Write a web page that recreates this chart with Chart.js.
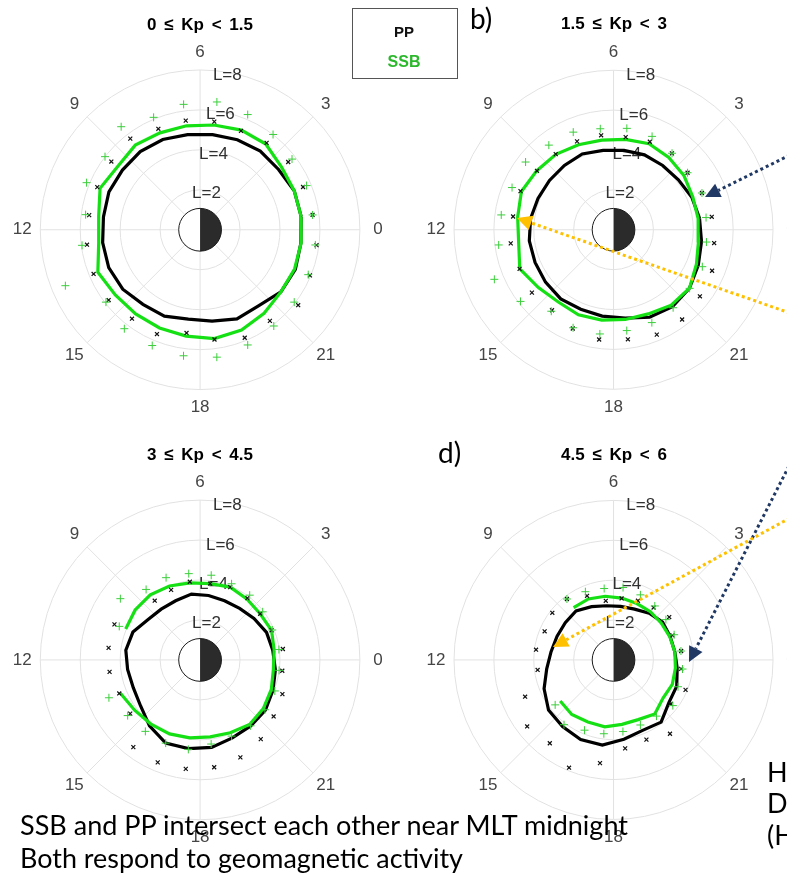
<!DOCTYPE html>
<html>
<head>
<meta charset="utf-8">
<title>PP and SSB vs Kp</title>
<script src="https://cdn.jsdelivr.net/npm/chart.js@4.4.1/dist/chart.umd.min.js"></script>
<style>
  html, body { margin: 0; padding: 0; background: #fff; }
  #page { position: relative; width: 787px; height: 874px; overflow: hidden; }
  #page canvas { position: absolute; }
  #overlay { position: absolute; left: 0; top: 0; }
  .kp { font-size: 17px; font-weight: bold; word-spacing: 3px; }
</style>
</head>
<body>
<div id="page">
  <canvas id="chart-a" width="407" height="440" style="left:0;top:0"></canvas>
  <canvas id="chart-b" width="380" height="440" style="left:407px;top:0"></canvas>
  <canvas id="chart-c" width="407" height="434" style="left:0;top:440px"></canvas>
  <canvas id="chart-d" width="380" height="434" style="left:407px;top:440px"></canvas>
  <svg id="overlay" width="787" height="874" font-family="'Liberation Sans', Arial, sans-serif">
    <text class="kp" x="200" y="30" text-anchor="middle">0 ≤ Kp &lt; 1.5</text>
    <text class="kp" x="614" y="29" text-anchor="middle">1.5 ≤ Kp &lt; 3</text>
    <text class="kp" x="200" y="460" text-anchor="middle">3 ≤ Kp &lt; 4.5</text>
    <text class="kp" x="614" y="460" text-anchor="middle">4.5 ≤ Kp &lt; 6</text>

    <rect x="352.5" y="8.5" width="105" height="70" fill="#fff" stroke="#555" stroke-width="1"/>
    <text x="404" y="37" text-anchor="middle" font-size="15" font-weight="bold" fill="#111">PP</text>
    <text x="404" y="67" text-anchor="middle" font-size="16" font-weight="bold" fill="#2cb82c">SSB</text>

    <g font-family="Lato, 'Open Sans', sans-serif" fill="#000">
      <text x="470" y="29" font-size="28">b)</text>
      <text x="438" y="463" font-size="28">d)</text>
      <text x="20" y="835" font-size="27" textLength="608" lengthAdjust="spacingAndGlyphs">SSB and PP intersect each other near MLT midnight</text>
      <text x="20" y="868" font-size="27" textLength="443" lengthAdjust="spacingAndGlyphs">Both respond to geomagnetic activity</text>
      <text x="767" y="782" font-size="27">H</text>
      <text x="767" y="813" font-size="27">D</text>
      <text x="767" y="845" font-size="27">(H</text>
    </g>
    <g id="arrows"></g>
  </svg>
</div>

<script>
// MLT bins (hours) at which the averages are given
const mltBins = [0.5, 1.5, 2.5, 3.5, 4.5, 5.5, 6.5, 7.5, 8.5, 9.5, 10.5, 11.5,
                 12.5, 13.5, 14.5, 15.5, 16.5, 17.5, 18.5, 19.5, 20.5, 21.5, 22.5, 23.5];
const mltTicks = [0, 3, 6, 9, 12, 15, 18, 21];
const lRings = [2, 4, 6, 8];

// a) 0 <= Kp < 1.5
const ppA      = [5.1, 5.1, 4.95, 4.95, 4.87, 4.79, 4.79, 4.88, 4.92, 4.9, 4.94, 4.88, 4.92, 4.95, 4.88, 4.7, 4.67, 4.5, 4.6, 4.82, 4.8, 5.1, 5.16, 5.09];
const ssbA     = [5.1, 5.1, 5.14, 5.4, 5.39, 5.28, 5.24, 5.24, 5.33, 5.2, 5.42, 5.12, 5.12, 5.54, 5.35, 5.3, 5.31, 5.36, 5.48, 5.42, 5.26, 5.1, 5.12, 5.1];
const ppSpreadA  = [5.68, 5.58, 5.56, 5.47, 5.35, 5.45, 5.5, 5.46, 5.74, 5.6, 5.57, 5.6, 5.71, 5.77, 5.77, 5.6, 5.64, 5.2, 5.53, 5.84, 5.74, 6.19, 5.95, 5.88];
const ssbSpreadA = [5.68, 5.77, 5.8, 6.0, 6.23, 6.44, 6.32, 6.08, 6.49, 6.0, 6.15, 5.78, 5.96, 7.3, 5.94, 6.23, 6.26, 6.35, 6.42, 6.23, 6.06, 5.94, 5.86, 5.82];

// b) 1.5 <= Kp < 3
const ppB      = [4.35, 4.25, 4.1, 4.05, 4.05, 4.0, 4.0, 4.1, 4.05, 4.05, 4.1, 4.2, 4.26, 4.26, 4.3, 4.35, 4.3, 4.35, 4.45, 4.73, 4.85, 4.8, 4.6, 4.45];
const ssbB     = [4.28, 4.3, 4.45, 4.55, 4.65, 4.55, 4.52, 4.6, 4.75, 4.85, 5.0, 4.85, 4.8, 5.09, 4.75, 4.55, 4.6, 4.55, 4.52, 4.55, 4.75, 4.8, 4.5, 4.3];
const ppSpreadB  = [4.97, 4.8, 4.68, 4.81, 4.76, 4.67, 4.76, 4.78, 4.76, 4.84, 5.05, 5.08, 5.2, 5.1, 5.16, 5.07, 5.34, 5.53, 5.52, 5.67, 5.65, 5.46, 5.35, 5.09];
const ssbSpreadB = [4.68, 4.8, 4.68, 4.82, 5.05, 5.11, 5.09, 5.28, 5.33, 5.56, 5.51, 5.68, 5.81, 6.47, 5.88, 5.13, 5.3, 5.25, 5.08, 5.02, 4.91, 4.81, 4.82, 4.7];

// c) 3 <= Kp < 4.5
const ppC      = [3.67, 3.6, 3.4, 3.25, 3.2, 3.25, 3.32, 3.2, 3.2, 3.3, 3.64, 3.75, 3.66, 3.62, 3.76, 4.16, 4.5, 4.47, 4.41, 4.22, 4.16, 4.12, 3.95, 3.8];
const ssbC     = [3.74, 3.87, 3.79, 3.84, 3.94, 3.85, 3.88, 4.0, 4.1, 4.1, 4.03, null, null, 4.33, 4.13, 4.04, 4.0, 3.93, 3.88, 3.94, 4.07, 3.99, 3.86, 3.7];
const ppSpreadC  = [4.18, 3.87, 3.79, 3.89, 3.94, 3.85, 3.94, 3.79, 3.73, null, 4.64, 4.62, 4.57, 4.38, 4.41, 5.49, 5.54, 5.49, 5.41, 5.27, 4.99, 4.64, 4.46, 4.15];
const ssbSpreadC = [3.98, 3.91, 3.95, 4.08, 4.12, 4.27, 4.35, 4.45, 4.44, 5.03, 4.38, null, null, 4.94, 4.57, 4.5, 4.5, 4.51, 4.24, 4.12, 4.15, 4.09, 4.05, 3.99];

// d) 4.5 <= Kp < 6
const ppD      = [3.1, 3.07, 3.1, 2.94, 2.75, 2.7, 2.73, 2.88, 3.09, 3.05, 3.07, 3.16, 3.38, 3.77, 4.11, 4.2, 4.31, 4.29, 4.0, 3.81, 3.92, 3.5, 3.43, 3.22];
const ssbD     = [3.1, 3.05, 3.02, 3.04, 3.05, 3.12, 3.21, 3.3, 3.29, null, null, null, null, null, 3.37, 3.44, 3.36, 3.37, 3.25, 3.23, 3.4, 3.13, 3.19, 3.13];
const ppSpreadD  = [3.42, 3.2, 3.52, 3.3, 3.2, 3.1, 2.98, 3.47, 3.84, 3.87, 3.74, 3.92, 3.84, 4.8, 5.46, 5.25, 5.83, 5.2, 4.46, 4.31, 4.65, 3.62, 3.91, 3.42];
const ssbSpreadD = [3.41, 3.29, 3.31, 3.4, 3.52, 3.65, 3.6, 3.69, 3.84, null, null, null, null, null, 3.69, 4.08, 3.8, 3.72, 3.61, 3.52, 3.54, 3.75, 3.5, 3.49];

const PX_PER_L = 20.5;   // pixels per Earth radius
const PP_COLOR = '#000000';
const SSB_COLOR = '#14e014';

// (L, MLT) -> x, y in units of L, MLT 0 to the right, MLT 6 up
function toXY(values) {
    return values.map((L, i) => {
        if (L === null) return { x: null, y: null };
        const a = mltBins[i] * Math.PI / 12;
        return { x: L * Math.cos(a), y: L * Math.sin(a) };
    });
}

function closedLoop(values) {
    const pts = toXY(values);
    pts.push(pts[0]);
    return pts;
}

// polar grid, Earth and labels drawn from the chart's own scales
const polarGrid = {
    id: 'polarGrid',
    beforeDatasetsDraw(chart) {
        const { ctx, scales: { x, y } } = chart;
        const cx = x.getPixelForValue(0);
        const cy = y.getPixelForValue(0);
        const k = x.getPixelForValue(1) - cx;
        const rMax = lRings[lRings.length - 1] * k;

        ctx.save();
        ctx.strokeStyle = '#e2e2e2';
        ctx.lineWidth = 1;
        lRings.forEach(L => {
            ctx.beginPath();
            ctx.arc(cx, cy, L * k, 0, 2 * Math.PI);
            ctx.stroke();
        });
        mltTicks.forEach(h => {
            const a = h * Math.PI / 12;
            ctx.beginPath();
            ctx.moveTo(cx, cy);
            ctx.lineTo(cx + rMax * Math.cos(a), cy - rMax * Math.sin(a));
            ctx.stroke();
        });

        // Earth: day side white, night side dark
        const re = 1.07 * k;
        ctx.fillStyle = '#fff';
        ctx.beginPath();
        ctx.arc(cx, cy, re, 0, 2 * Math.PI);
        ctx.fill();
        ctx.fillStyle = '#2b2b2b';
        ctx.beginPath();
        ctx.arc(cx, cy, re, -Math.PI / 2, Math.PI / 2);
        ctx.closePath();
        ctx.fill();
        ctx.strokeStyle = '#1a1a1a';
        ctx.beginPath();
        ctx.arc(cx, cy, re, 0, 2 * Math.PI);
        ctx.stroke();

        // MLT labels
        ctx.font = '17px "Liberation Sans", Arial, sans-serif';
        ctx.textAlign = 'center';
        ctx.textBaseline = 'middle';
        ctx.fillStyle = '#454545';
        mltTicks.forEach(h => {
            const a = h * Math.PI / 12;
            const r = 8.9 * k;
            ctx.fillText(String(h), cx + r * Math.cos(a), cy - r * Math.sin(a));
        });

        // L labels along 80 degrees
        ctx.fillStyle = '#303030';
        const la = 80 * Math.PI / 180;
        lRings.forEach(L => {
            const r = (L - 0.15) * k;
            ctx.fillText('L=' + L, cx + r * Math.cos(la), cy - r * Math.sin(la));
        });
        ctx.restore();
    }
};

function makePanel(canvasId, cx, cy, pp, ssb, ppSpread, ssbSpread) {
    const canvas = document.getElementById(canvasId);
    const W = canvas.width, H = canvas.height;
    return new Chart(canvas, {
        type: 'scatter',
        data: {
            datasets: [
                {   // SSB spread markers
                    data: toXY(ssbSpread),
                    pointStyle: 'cross',
                    pointRadius: 4,
                    pointBorderWidth: 1,
                    borderColor: '#3ccf3c',
                    backgroundColor: '#3ccf3c',
                    order: 0
                },
                {   // PP spread markers
                    data: toXY(ppSpread),
                    pointStyle: 'crossRot',
                    pointRadius: 2.8,
                    pointBorderWidth: 1.2,
                    borderColor: '#111',
                    backgroundColor: '#111',
                    order: 1
                },
                {   // SSB
                    data: closedLoop(ssb),
                    showLine: true,
                    borderColor: SSB_COLOR,
                    borderWidth: 3.2,
                    pointRadius: 0,
                    spanGaps: false,
                    order: 2
                },
                {   // PP
                    data: closedLoop(pp),
                    showLine: true,
                    borderColor: PP_COLOR,
                    borderWidth: 3.2,
                    pointRadius: 0,
                    spanGaps: false,
                    order: 3
                }
            ]
        },
        options: {
            responsive: false,
            animation: false,
            events: [],
            layout: { padding: 0 },
            plugins: { legend: { display: false }, tooltip: { enabled: false } },
            scales: {
                x: { type: 'linear', display: false, min: -cx / PX_PER_L, max: (W - cx) / PX_PER_L },
                y: { type: 'linear', display: false, min: -(H - cy) / PX_PER_L, max: cy / PX_PER_L }
            }
        },
        plugins: [polarGrid]
    });
}

makePanel('chart-a', 200, 230, ppA, ssbA, ppSpreadA, ssbSpreadA);
makePanel('chart-b', 207, 230, ppB, ssbB, ppSpreadB, ssbSpreadB);
makePanel('chart-c', 200, 220, ppC, ssbC, ppSpreadC, ssbSpreadC);
makePanel('chart-d', 207, 220, ppD, ssbD, ppSpreadD, ssbSpreadD);

// dotted annotation arrows
function addArrow(x1, y1, x2, y2, color) {
    const g = document.getElementById('arrows');
    const ns = 'http://www.w3.org/2000/svg';
    const len = Math.hypot(x2 - x1, y2 - y1);
    const ux = (x2 - x1) / len, uy = (y2 - y1) / len;
    const head = 15, half = 7.5;
    const bx = x2 - ux * head, by = y2 - uy * head;
    const line = document.createElementNS(ns, 'line');
    line.setAttribute('x1', x1); line.setAttribute('y1', y1);
    line.setAttribute('x2', bx); line.setAttribute('y2', by);
    line.setAttribute('stroke', color);
    line.setAttribute('stroke-width', 3);
    line.setAttribute('stroke-dasharray', '3 3');
    g.appendChild(line);
    const tri = document.createElementNS(ns, 'polygon');
    tri.setAttribute('points', [x2, y2, bx - uy * half, by + ux * half, bx + uy * half, by - ux * half].join(' '));
    tri.setAttribute('fill', color);
    g.appendChild(tri);
}

addArrow(790, 155, 705, 197, '#203864');
addArrow(790, 313, 517, 218, '#ffc000');
addArrow(789, 466, 689, 662, '#203864');
addArrow(790, 518, 553, 647, '#ffc000');
</script>
</body>
</html>
